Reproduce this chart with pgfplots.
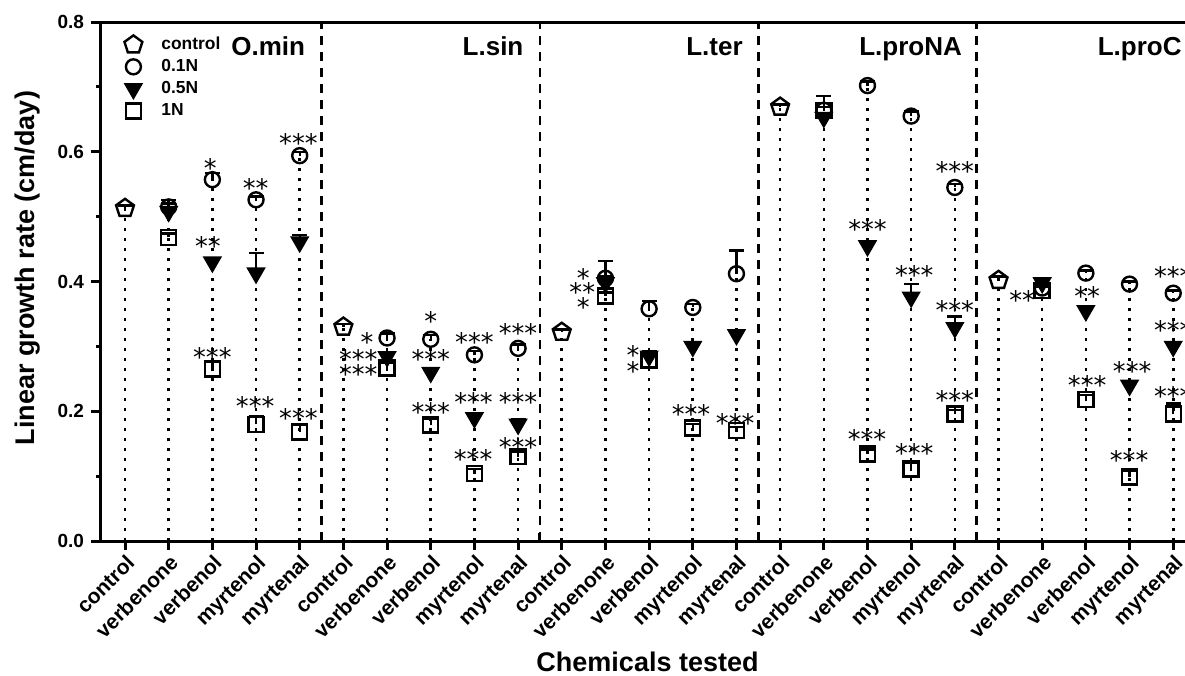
\documentclass[border=0pt]{standalone}
\usepackage{fontspec}
\setmainfont{Liberation Sans}
\newfontfamily\starfont{DejaVu Sans}
\usepackage{pgfplots}
\usepackage{pgfplotstable}
\pgfplotsset{compat=1.18}

% k = position of the chemical (5 per species), y = mean, e = upper error
\pgfplotstableread{
x y e
0 0.513 0.004
5 0.330 0.005
10 0.322 0.004
15 0.669 0.004
20 0.402 0.006
}\ctrl

\pgfplotstableread{
x y e
1 0.515 0.005
2 0.557 0.010
3 0.526 0.005
4 0.594 0.006
6 0.313 0.007
7 0.311 0.007
8 0.287 0.006
9 0.297 0.006
11 0.405 0.027
12 0.358 0.012
13 0.360 0.005
14 0.412 0.036
16 0.664 0.022
17 0.702 0.006
18 0.655 0.007
19 0.545 0.005
21 0.390 0.005
22 0.413 0.004
23 0.396 0.004
24 0.382 0.004
}\lowN

\pgfplotstableread{
x y e
1 0.508 0.018
2 0.430 0.006
3 0.413 0.031
4 0.461 0.011
6 0.284 0.006
7 0.260 0.005
8 0.190 0.006
9 0.180 0.008
11 0.398 0.010
12 0.285 0.007
13 0.300 0.007
14 0.318 0.006
16 0.653 0.005
17 0.455 0.005
18 0.376 0.020
19 0.329 0.017
21 0.398 0.004
22 0.355 0.006
23 0.240 0.005
24 0.300 0.006
}\midN

\pgfplotstableread{
x y e
1 0.468 0.006
2 0.265 0.011
3 0.180 0.013
4 0.168 0.011
6 0.267 0.008
7 0.179 0.009
8 0.104 0.007
9 0.130 0.008
11 0.378 0.005
12 0.279 0.006
13 0.174 0.006
14 0.170 0.006
16 0.664 0.005
17 0.134 0.007
18 0.111 0.010
19 0.196 0.006
21 0.386 0.006
22 0.218 0.007
23 0.099 0.010
24 0.196 0.016
}\highN

\pgfplotsset{
  drop/.style={ycomb, black, mark=none, line width=1.3pt,
    dash pattern=on 1.3pt off 3.7pt, forget plot},
  eb/.style={error bars/.cd, y dir=plus, y explicit,
    error bar style={line width=1.2pt, black},
    error mark options={rotate=90, mark size=3.75pt, line width=1.2pt, black}},
  ctrlm/.style={only marks, black, mark=pentagon, mark size=4.7pt,
    mark options={fill=white, line width=1.2pt}},
  lowm/.style={only marks, black, mark=o, mark size=3.75pt,
    mark options={fill=white, line width=1.2pt}},
  midm/.style={only marks, black, mark=triangle*, mark size=5pt,
    mark options={rotate=180, fill=black, line width=0.6pt}},
  highm/.style={only marks, black, mark=square, mark size=3.75pt,
    mark options={fill=white, line width=1.2pt}},
}
\tikzset{
  starnode/.style={font=\starfont\fontsize{12.8}{13}\selectfont, inner sep=0pt,
    anchor=base, yshift=-7.2pt},
  sepline/.style={black, line width=1.2pt, dash pattern=on 4.5pt off 3.5pt},
  species/.style={anchor=base east, inner sep=0pt,
    font=\bfseries\fontsize{13}{15}\selectfont},
}
\newcommand\st[3]{\node[starnode] at (axis cs:#1,#2) {#3};}

\begin{document}
\begin{tikzpicture}
\begin{axis}[
  scale only axis, width=547.46pt, height=259.5pt,
  xmin=-0.5725, xmax=24.5, ymin=0, ymax=0.8,
  axis line style={line width=1.5pt},
  tick style={line width=1.5pt, black},
  tick pos=left, tick align=outside,
  major tick length=4.5pt, minor tick length=2pt,
  xtick={0,...,24},
  xticklabels={control,verbenone,verbenol,myrtenol,myrtenal,
    control,verbenone,verbenol,myrtenol,myrtenal,
    control,verbenone,verbenol,myrtenol,myrtenal,
    control,verbenone,verbenol,myrtenol,myrtenal,
    control,verbenone,verbenol,myrtenol,myrtenal},
  x tick label style={rotate=45, anchor=north east, inner sep=1pt,
    font=\bfseries\fontsize{10.5}{11}\selectfont},
  extra x ticks={4.5,9.5,14.5,19.5}, extra x tick labels={},
  extra x tick style={tick align=inside, major tick length=4pt},
  ytick={0,0.2,0.4,0.6,0.8}, minor ytick={0.1,0.3,0.5,0.7},
  y tick label style={font=\bfseries\fontsize{9.5}{10}\selectfont,
    /pgf/number format/.cd, fixed, fixed zerofill, precision=1,
    assume math mode=true},
  xlabel={Chemicals tested}, ylabel={Linear growth rate (cm/day)},
  label style={font=\bfseries\fontsize{13.5}{15}\selectfont},
  xlabel style={at={(axis description cs:0.5,0)}, anchor=base, yshift=-65pt},
  ylabel style={at={(axis description cs:-0.0594,0.526)}, anchor=base},
  legend cell align=left,
  legend image code/.code={%
    \path[draw=none, fill=none] (-5pt,-5.2pt) rectangle (13pt,5.2pt);
    \draw[#1] plot coordinates {(0pt,0pt)};},
  legend style={at={(0,1)}, anchor=north west, xshift=8.5pt, yshift=-4pt,
    draw=none, fill=none, row sep=0.6pt,
    nodes={inner sep=1pt},
    font=\bfseries\fontsize{8.7}{9}\selectfont},
]
\addlegendimage{ctrlm}\addlegendentry{control}
\addlegendimage{lowm}\addlegendentry{0.1N}
\addlegendimage{midm}\addlegendentry{0.5N}
\addlegendimage{highm}\addlegendentry{1N}

% drop lines
\addplot[drop] table[x=x,y=y] {\ctrl};
\addplot[drop] table[x=x,y=y] {\lowN};
\addplot[drop] table[x=x,y=y] {\midN};
\addplot[drop] table[x=x,y=y] {\highN};

% separators between species
\draw[sepline] (axis cs:4.5,0) -- (axis cs:4.5,0.8);
\draw[sepline] (axis cs:9.5,0) -- (axis cs:9.5,0.8);
\draw[sepline] (axis cs:14.5,0) -- (axis cs:14.5,0.8);
\draw[sepline] (axis cs:19.5,0) -- (axis cs:19.5,0.8);

\addplot[ctrlm, forget plot, eb] table[x=x,y=y,y error=e] {\ctrl};
\addplot[lowm, forget plot, eb] table[x=x,y=y,y error=e] {\lowN};
\addplot[midm, forget plot, eb] table[x=x,y=y,y error=e] {\midN};
\addplot[highm, forget plot, eb] table[x=x,y=y,y error=e] {\highN};

% species names
\node[species] at (axis cs:4.13,0.749) {O.min};
\node[species] at (axis cs:9.13,0.749) {L.sin};
\node[species] at (axis cs:14.15,0.749) {L.ter};
\node[species] at (axis cs:19.17,0.749) {L.proNA};
\node[species] at (axis cs:24.2,0.749) {L.proC};

% significance marks
\st{1.95}{0.583}{*}\st{1.90}{0.462}{**}\st{2.0}{0.291}{***}
\st{2.99}{0.552}{**}\st{2.98}{0.216}{***}
\st{3.97}{0.621}{***}\st{3.97}{0.197}{***}
\st{5.54}{0.314}{*}\st{5.34}{0.288}{***}\st{5.34}{0.265}{***}
\st{7.0}{0.347}{*}\st{7.0}{0.288}{***}\st{7.0}{0.206}{***}
\st{8.0}{0.314}{***}\st{7.98}{0.222}{***}\st{7.97}{0.134}{***}
\st{9.0}{0.328}{***}\st{9.0}{0.222}{***}\st{9.0}{0.153}{***}
\st{10.49}{0.413}{*}\st{10.47}{0.391}{**}\st{10.49}{0.369}{*}
\st{11.63}{0.294}{*}\st{11.63}{0.270}{*}
\st{12.96}{0.203}{***}
\st{13.97}{0.190}{***}
\st{17.0}{0.488}{***}\st{16.99}{0.165}{***}
\st{18.07}{0.418}{***}\st{18.07}{0.143}{***}
\st{19.0}{0.578}{***}\st{19.0}{0.363}{***}\st{19.0}{0.225}{***}
\st{20.54}{0.379}{**}
\st{22.03}{0.385}{**}\st{22.03}{0.248}{***}
\st{23.06}{0.270}{***}\st{22.99}{0.132}{***}
\st{24.0}{0.416}{***}\st{24.0}{0.333}{***}\st{24.0}{0.231}{***}

\coordinate (bbSW) at (axis cs:-0.5725,0);
\coordinate (bbNE) at (axis cs:24.27,0.8);
\end{axis}
\pgfresetboundingbox
\path[use as bounding box] ([xshift=-50pt,yshift=-67pt]bbSW) rectangle ([yshift=11pt]bbNE);
\end{tikzpicture}
\end{document}
